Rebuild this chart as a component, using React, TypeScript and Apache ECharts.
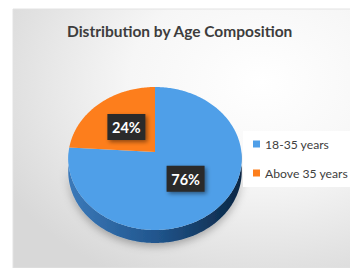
import React, { useEffect, useRef } from "react";
import * as echarts from "echarts";

const titleText = "Distribution by Age Composition";
const categories = ["18-35 years", "Above 35 years"];
const values = [76, 24];
const topColors = ["#4f9fe8", "#fd7e1c"];
const sideColors = [
  ["#3b79b9", "#21568e", "#0b2744"],
  ["#b85a12", "#8f430a", "#5e2b05"],
];

// layout of the tilted pie (canvas px)
const CX = 147;
const CY = 144;
const A = 86.4;
const B = 70.9;
const E = 0.0909;
const DEPTH = 13;

function proj(deg: number, r: number, dy: number): [number, number] {
  const t = (deg * Math.PI) / 180;
  const u = Math.cos(t) * r;
  const v = Math.sin(t) * r;
  const k = 1 / (1 - E * v);
  return [CX + A * u * k, CY + B * v * k + dy];
}

const total = values.reduce((s, v) => s + v, 0);
const cum: number[] = [0];
values.forEach((v, i) => cum.push(cum[i] + v));
const sliceData = values.map((v, i) => [cum[i] / total, cum[i + 1] / total, v]);

export default function App() {
  const ref = useRef<HTMLDivElement>(null);
  useEffect(() => {
    if (!ref.current) return;
    const chart = echarts.init(ref.current, undefined, { renderer: "svg" });
    const renderItem = (params: any, api: any) => {
      const f0 = api.value(0) as number;
      const f1 = api.value(1) as number;
      const i = params.dataIndex;
      const t0 = -90 + f0 * 360;
      const t1 = -90 + f1 * 360;
      const children: any[] = [];
      const ranges: [number, number][] = [];
      for (const off of [0, 360]) {
        const lo = Math.max(t0, 0 + off);
        const hi = Math.min(t1, 180 + off);
        if (hi > lo) ranges.push([lo, hi]);
      }
      ranges.forEach(([lo, hi]) => {
        const pts: [number, number][] = [];
        for (let d = lo; d <= hi; d += 1) pts.push(proj(d, 1, 0));
        pts.push(proj(hi, 1, 0));
        for (let d = hi; d >= lo; d -= 1) pts.push(proj(d, 1, DEPTH));
        pts.push(proj(lo, 1, DEPTH));
        const sc = sideColors[i];
        children.push({
          type: "polygon",
          shape: { points: pts },
          style: {
            fill: new echarts.graphic.LinearGradient(0, 0, 1, 0, [
              { offset: 0, color: sc[0] },
              { offset: 0.5, color: sc[1] },
              { offset: 1, color: sc[2] },
            ]),
            shadowBlur: 8,
            shadowOffsetY: 3,
            shadowColor: "rgba(0,0,0,0.3)",
          },
        });
      });
      const top: [number, number][] = [[CX, CY]];
      for (let d = t0; d < t1; d += 1) top.push(proj(d, 1, 0));
      top.push(proj(t1, 1, 0));
      children.push({
        type: "polygon",
        shape: { points: top },
        style: { fill: topColors[i] },
      });
      return { type: "group", children };
    };
    const renderLabel = (params: any, api: any) => {
      const f0 = api.value(0) as number;
      const f1 = api.value(1) as number;
      const val = api.value(2) as number;
      const mid = -90 + ((f0 + f1) / 2) * 360;
      const [lx, ly] = proj(mid, 0.5, 0);
      const txt = Math.round((val / total) * 100) + "%";
      return {
        type: "group",
        children: [
          {
            type: "rect",
            shape: { x: lx - 19, y: ly - 13, width: 38, height: 26 },
            style: {
              fill: "#2a2a2a",
              shadowBlur: 4,
              shadowOffsetX: 2,
              shadowOffsetY: 2,
              shadowColor: "rgba(0,0,0,0.45)",
            },
          },
          {
            type: "text",
            x: lx,
            y: ly + 1,
            style: {
              text: txt,
              fill: "#ffffff",
              font: "bold 14.5px Lato",
              textAlign: "center",
              textVerticalAlign: "middle",
            },
          },
        ],
      };
    };
    chart.setOption({
      animation: false,
      color: topColors,
      title: {
        text: titleText,
        left: 54,
        top: 10,
        textStyle: {
          fontFamily: "Lato",
          fontWeight: "bold",
          fontSize: 15.5,
          color: "#3d3d3d",
        },
      },
      legend: {
        orient: "vertical",
        left: 235,
        top: 123,
        backgroundColor: "#ffffff",
        padding: [7, 20, 8, 10],
        icon: "rect",
        itemWidth: 7,
        itemHeight: 7,
        itemGap: 17,
        data: categories,
        textStyle: { fontFamily: "Lato", fontSize: 12.2, color: "#404040" },
      },
      graphic: [
        {
          type: "rect",
          z: -10,
          shape: { x: 5, y: 1, width: 345, height: 259 },
          style: {
            fill: new echarts.graphic.RadialGradient(0.72, 0.28, 0.85, [
              { offset: 0, color: "#ffffff" },
              { offset: 0.45, color: "#f6f6f6" },
              { offset: 1, color: "#d8d8d8" },
            ]),
            stroke: "#e2e2e2",
            lineWidth: 1,
          },
        },
      ],
      series: [
        {
          type: "pie",
          name: "legend",
          radius: [0, 0],
          center: [-100, -100],
          silent: true,
          label: { show: false },
          labelLine: { show: false },
          data: categories.map((c, i) => ({ name: c, value: values[i] })),
        },
        {
          type: "custom",
          coordinateSystem: "none",
          renderItem,
          data: sliceData,
          silent: true,
        },
        {
          type: "custom",
          coordinateSystem: "none",
          renderItem: renderLabel,
          data: sliceData,
          silent: true,
          z: 5,
        },
      ],
    });
    return () => chart.dispose();
  }, []);
  return <div ref={ref} style={{ width: 350, height: 260 }} />;
}
